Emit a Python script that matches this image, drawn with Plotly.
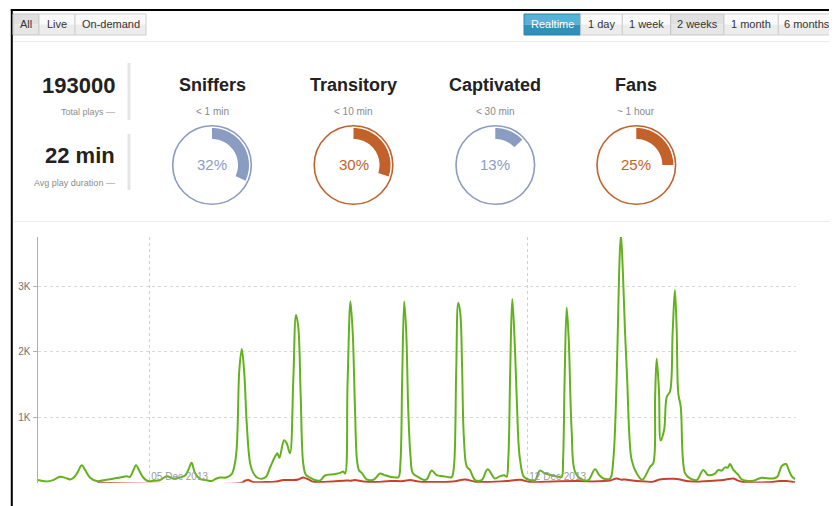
import numpy as np
import pandas as pd
import plotly.graph_objects as go

# page body has an 8px margin, so the figure starts at (8, 8) in the window
OFF = 8
W, H = 837 - OFF, 506 - OFF
BASE = pd.Timestamp("2013-12-03 00:00")

# ---------------- data ----------------
green_hours = [-1.7, 2.4, 5.2, 8.3, 11.0, 12.8, 14.5, 16.3, 18.0, 19.4, 21.6, 24.6, 29.1, 31.9, 35.0, 38.0,
               39.4, 40.8, 42.1, 43.6, 45.3, 47.4, 50.1, 52.8, 55.7, 58.7, 61.6, 63.9, 65.4, 66.8, 68.3, 70.5,
               73.2, 75.7, 77.6, 79.4, 82.1, 84.6, 86.5, 88.0, 89.1, 90.2, 91.3, 92.8, 94.2, 95.9, 98.0, 99.9,
               101.6, 103.9, 104.9, 105.8, 107.9, 109.1, 110.5, 112.0, 113.2, 114.2, 115.3, 116.4, 117.6, 119.4,
               121.6, 123.9, 126.1, 129.8, 132.8, 134.2, 135.0, 136.1, 137.4, 138.4, 139.4, 140.3, 141.2, 142.4,
               144.6, 147.6, 149.1, 150.5, 152.3, 154.2, 156.4, 158.7, 159.6, 160.4, 161.3, 162.2, 163.1, 164.1,
               165.1, 167.6, 169.8, 171.3, 173.5, 175.7, 178.7, 180.9, 182.4, 183.4, 184.4, 185.3, 186.2, 187.0,
               187.8, 189.1, 190.5, 192.8, 195.7, 198.4, 201.6, 203.9, 205.8, 206.8, 207.6, 208.4, 209.3, 210.2,
               211.3, 212.1, 212.8, 214.5, 217.2, 219.4, 221.6, 223.9, 226.8, 229.8, 231.3, 231.9, 232.6, 233.5,
               234.4, 235.7, 237.2, 240.2, 243.1, 246.1, 247.9, 249.8, 252.8, 254.2, 255.7, 256.8, 257.6, 258.5,
               259.4, 260.4, 261.4, 262.4, 264.6, 267.1, 270.5, 272.0, 272.8, 273.5, 274.5, 275.3, 276.8, 278.0,
               279.4, 280.6, 281.6, 282.4, 283.1, 284.2, 286.1, 288.3, 291.3, 294.2, 296.4, 299.4, 300.9, 302.4,
               303.9, 305.1, 306.1, 307.6, 309.8, 311.3, 313.5, 316.4, 318.7, 320.2, 325.3, 327.1, 329.1, 331.0,
               332.0, 333.5, 335.0]
green_plays = [40, 20, 40, 90, 70, 50, 80, 170, 265, 200, 80, 25, 45, 60, 80, 100,
               90, 180, 265, 180, 80, 25, 30, 40, 100, 60, 80, 110, 200, 305, 150, 60,
               40, 25, 60, 80, 80, 130, 400, 1720, 2045, 1680, 910, 300, 150, 80, 60, 90,
               225, 400, 450, 380, 650, 600, 450, 1570, 2565, 2385, 1315, 300, 120, 80,
               40, 35, 110, 130, 150, 170, 140, 1500, 2770, 2300, 1150, 350, 190, 150,
               50, 45, 90, 140, 120, 100, 85, 85, 300, 1600, 2770, 2300, 1100, 400,
               150, 85, 45, 50, 185, 115, 100, 85, 85, 250, 1700, 2750, 2600, 1800,
               700, 245, 195, 40, 40, 205, 65, 100, 115, 90, 400, 1700, 2810, 2300,
               1300, 600, 345, 90, 40, 35, 185, 140, 115, 90, 90, 350, 1600, 2680,
               2200, 805, 170, 50, 40, 205, 120, 65, 65, 345, 1570, 3200, 3800, 3200,
               2335, 1570, 700, 345, 145, 45, 240, 300, 1300, 1900, 1420, 645, 805, 1315,
               1390, 2300, 2945, 2330, 1365, 1160, 145, 65, 40, 195, 115, 140, 195, 185,
               235, 230, 285, 195, 120, 50, 30, 30, 60, 75, 65, 90, 255, 285,
               215, 100, 55]

red_hours = [24.9, 89.1, 90.5, 92.0, 94.1, 100.2, 104.6, 107.6, 112.0, 114.2, 116.4, 118.7, 120.9, 123.9,
             129.8, 135.7, 137.2, 139.4, 143.1, 149.1, 155.0, 160.9, 163.9, 168.3, 174.1, 183.1, 188.3,
             192.8, 198.0, 206.8, 212.8, 217.2, 227.6, 238.0, 245.3, 252.8, 255.7, 257.9, 259.4, 264.6,
             272.0, 274.8, 280.9, 283.9, 286.8, 291.3, 298.7, 303.1, 307.6, 309.1, 311.3, 315.0, 322.4,
             328.3, 331.3, 335.0]
red_plays = [0, 0, 30, 40, 10, 10, 20, 40, 40, 50, 80, 50, 15, 10,
             20, 35, 30, 40, 20, 10, 25, 25, 40, 15, 10, 20, 50,
             15, 10, 25, 45, 10, 20, 25, 20, 35, 65, 45, 50, 25,
             15, 50, 60, 50, 25, 15, 30, 40, 65, 40, 15, 5, 5,
             25, 25, 5]

if len(green_hours) != len(green_plays) or len(red_hours) != len(red_plays):
    raise ValueError(f"length mismatch {len(green_hours)} {len(green_plays)} {len(red_hours)} {len(red_plays)}")

y_tick_values = [0, 1000, 2000, 3000]
y_tick_labels = ["", "1K", "2K", "3K"]
x_tick_dates = ["2013-12-05", "2013-12-12"]
x_tick_labels = ["05 Dec 2013", "12 Dec 2013"]

total_plays = "193000"
avg_duration = "22 min"
segments = ["Sniffers", "Transitory", "Captivated", "Fans"]
segment_ranges = ["< 1 min", "< 10 min", "< 30 min", "~ 1 hour"]
segment_pct = [32, 30, 13, 25]

left_buttons = ["All", "Live", "On-demand"]
right_buttons = ["Realtime", "1 day", "1 week", "2 weeks", "1 month", "6 months"]

# ---------------- style / layout ----------------
GREEN = "#63b11f"
RED = "#c9402d"
BLUE = "#8a9cc2"
ORANGE = "#c2612a"
seg_colors = [BLUE, ORANGE, BLUE, ORANGE]
FONT = "Arial, Liberation Sans, sans-serif"


def fx(px):
    """window pixel x -> paper fraction"""
    return (px - OFF) / W


def fy(py):
    """window pixel y -> paper fraction"""
    return 1 - (py - OFF) / H


PLOT_L, PLOT_R, PLOT_T, PLOT_B = 37.5, 795.7, 237.0, 482.7

green_t = BASE + pd.to_timedelta(green_hours, unit="h")
red_t = BASE + pd.to_timedelta(red_hours, unit="h")

fig = go.Figure()
fig.add_trace(go.Scatter(x=red_t, y=red_plays, mode="lines",
                         line=dict(color=RED, width=2, shape="spline", smoothing=0.8),
                         hoverinfo="skip"))
fig.add_trace(go.Scatter(x=green_t, y=green_plays, mode="lines",
                         line=dict(color=GREEN, width=2, shape="spline", smoothing=1.0),
                         hoverinfo="skip"))

x_start = BASE + pd.Timedelta(hours=(PLOT_L - 41.3) / 2.25)
x_end = BASE + pd.Timedelta(hours=(PLOT_R - 41.3) / 2.25)

shapes = []
annotations = []

# frame lines
shapes.append(dict(type="line", xref="paper", yref="paper", x0=fx(10.8), x1=fx(837), y0=fy(10), y1=fy(10),
                   line=dict(color="black", width=2)))
shapes.append(dict(type="line", xref="paper", yref="paper", x0=fx(11.8), x1=fx(11.8), y0=fy(9), y1=fy(506),
                   line=dict(color="black", width=2)))
# dividers
for yy in (41.5, 221.5):
    shapes.append(dict(type="line", xref="paper", yref="paper", x0=fx(13), x1=fx(837), y0=fy(yy), y1=fy(yy),
                       line=dict(color="#ececec", width=1)))


# buttons
def add_buttons(labels, edges, styles):
    for i, lab in enumerate(labels):
        x0, x1 = edges[i], edges[i + 1]
        st = styles[i]
        if st == "primary":
            top, bot, txt, border = "#55b1d6", "#2f90b8", "white", "#2a86ad"
        elif st == "active":
            top, bot, txt, border = "#e0e0e0", "#e6e6e6", "#333333", "#c4c4c4"
        else:
            top, bot, txt, border = "#fafafa", "#ececec", "#333333", "#cfcfcf"
        shapes.append(dict(type="rect", xref="paper", yref="paper", x0=fx(x0), x1=fx(x1), y0=fy(14), y1=fy(24.5),
                           fillcolor=top, line=dict(width=0), layer="above"))
        shapes.append(dict(type="rect", xref="paper", yref="paper", x0=fx(x0), x1=fx(x1), y0=fy(24.5), y1=fy(35),
                           fillcolor=bot, line=dict(width=0), layer="above"))
        shapes.append(dict(type="rect", xref="paper", yref="paper", x0=fx(x0), x1=fx(x1), y0=fy(14), y1=fy(35),
                           fillcolor="rgba(0,0,0,0)", line=dict(color=border, width=1), layer="above"))
        annotations.append(dict(xref="paper", yref="paper", x=fx((x0 + x1) / 2), y=fy(24.5), text=lab,
                                showarrow=False, xanchor="center", yanchor="middle",
                                font=dict(family=FONT, size=11, color=txt)))


add_buttons(left_buttons, [13, 39, 75, 146], ["active", "default", "default"])
add_buttons(right_buttons, [524, 580.7, 622.3, 670.7, 724, 778.3, 835],
            ["primary", "default", "default", "active", "default", "default"])

# left stats
for big, small, ybig, ysmall, bar in ((total_plays, "Total plays —", 85, 112, (63, 120)),
                                      (avg_duration, "Avg play duration —", 155, 183.5, (134, 190))):
    annotations.append(dict(xref="paper", yref="paper", x=fx(117), y=fy(ybig), text=f"<b>{big}</b>",
                            showarrow=False, xanchor="right", yanchor="middle",
                            font=dict(family=FONT, size=22, color="#222222")))
    annotations.append(dict(xref="paper", yref="paper", x=fx(117), y=fy(ysmall), text=small,
                            showarrow=False, xanchor="right", yanchor="middle",
                            font=dict(family=FONT, size=9, color="#8c8c8c")))
    shapes.append(dict(type="rect", xref="paper", yref="paper", x0=fx(127.5), x1=fx(130.5),
                       y0=fy(bar[0]), y1=fy(bar[1]), fillcolor="#e5e5e5", line=dict(width=0)))

# gauges
centers = [212, 353.5, 495.3, 636.3]
CY, R_CIRC, R_OUT, R_IN = 165, 39.3, 37, 26


def arc_path(cx, cy, r_in, r_out, pct):
    th = np.linspace(0, 2 * np.pi * pct / 100, 80)
    pts = [(cx + r_out * np.sin(t), cy - r_out * np.cos(t)) for t in th]
    pts += [(cx + r_in * np.sin(t), cy - r_in * np.cos(t)) for t in th[::-1]]
    return "M " + " L ".join(f"{fx(x):.6f},{fy(y):.6f}" for x, y in pts) + " Z"


for cx, name, rng, pct, col in zip(centers, segments, segment_ranges, segment_pct, seg_colors):
    annotations.append(dict(xref="paper", yref="paper", x=fx(cx), y=fy(85), text=f"<b>{name}</b>",
                            showarrow=False, xanchor="center", yanchor="middle",
                            font=dict(family=FONT, size=18, color="#222222")))
    annotations.append(dict(xref="paper", yref="paper", x=fx(cx), y=fy(111), text=rng,
                            showarrow=False, xanchor="center", yanchor="middle",
                            font=dict(family=FONT, size=10, color="#8a8a8a")))
    shapes.append(dict(type="circle", xref="paper", yref="paper",
                       x0=fx(cx - R_CIRC), x1=fx(cx + R_CIRC), y0=fy(CY + R_CIRC), y1=fy(CY - R_CIRC),
                       line=dict(color=col, width=1.6), fillcolor="rgba(0,0,0,0)"))
    shapes.append(dict(type="path", xref="paper", yref="paper", path=arc_path(cx, CY, R_IN, R_OUT, pct),
                       fillcolor=col, line=dict(width=0)))
    annotations.append(dict(xref="paper", yref="paper", x=fx(cx), y=fy(CY), text=f"{pct}%",
                            showarrow=False, xanchor="center", yanchor="middle",
                            font=dict(family=FONT, size=15, color=col)))

fig.update_layout(
    width=W, height=H,
    margin=dict(l=0, r=0, t=0, b=0),
    paper_bgcolor="white", plot_bgcolor="white",
    showlegend=False,
    font=dict(family=FONT),
    shapes=shapes,
    annotations=annotations,
    xaxis=dict(
        domain=[fx(PLOT_L), fx(PLOT_R)],
        type="date", range=[x_start, x_end],
        tickvals=x_tick_dates, ticktext=x_tick_labels,
        ticklabelposition="inside right",
        ticklabelstandoff=-5, ticklabelshift=2,
        tickfont=dict(family=FONT, size=10, color="#9a9a9a"),
        showgrid=True, gridcolor="#cfcfcf", griddash="3px,3px", gridwidth=1,
        showline=False, zeroline=False, ticks="",
    ),
    yaxis=dict(
        domain=[fy(PLOT_B), fy(PLOT_T)],
        range=[0, 3757],
        tickvals=y_tick_values, ticktext=y_tick_labels,
        tickfont=dict(family=FONT, size=10, color="#707070"),
        showline=True, linecolor="#b0b0b0", linewidth=1,
        ticks="outside", ticklen=4, tickcolor="#b0b0b0",
        showgrid=True, gridcolor="#d9d9d9", griddash="3px,3px", gridwidth=1,
        zeroline=False,
    ),
)

fig.write_html("out.html")
